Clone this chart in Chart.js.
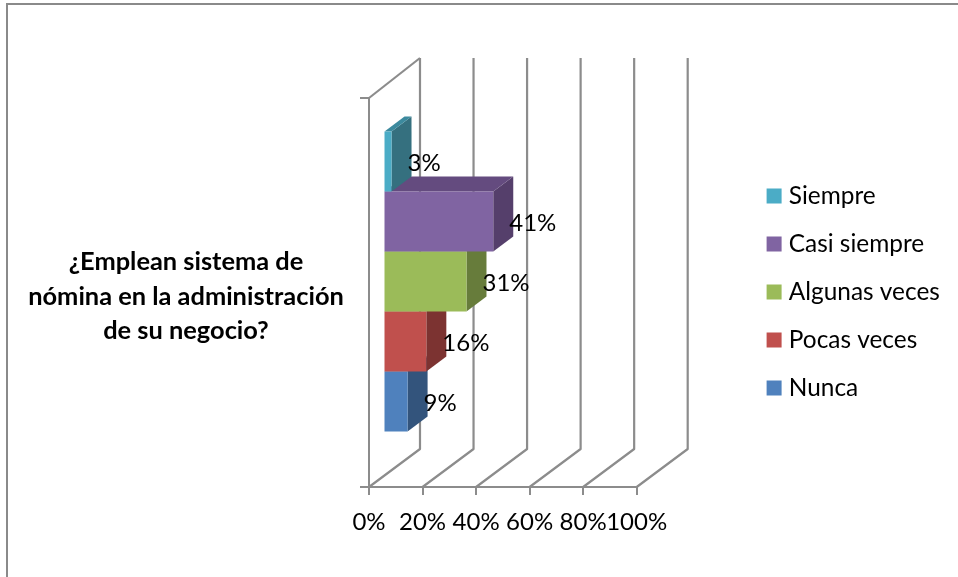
<!DOCTYPE html>
<html>
<head>
<meta charset="utf-8">
<title>Sistema de nómina</title>
<script src="https://cdn.jsdelivr.net/npm/chart.js@4/dist/chart.umd.min.js"></script>
<style>
html, body { margin: 0; padding: 0; background: #fff; }
#wrap { position: relative; width: 958px; height: 577px; overflow: hidden; }
#frame { position: absolute; left: 6px; top: 3px; right: 0; bottom: 0; border-left: 2px solid #8a8a8a; border-top: 2px solid #8a8a8a; }
#title { position: absolute; left: 16px; top: 243px; width: 340px; text-align: center; font: bold 25.4px/34.5px Lato, sans-serif; color: #000; }
canvas { position: absolute; left: 0; top: 0; }
</style>
</head>
<body>
<div id="wrap">
  <div id="frame"></div>
  <canvas id="chart" width="958" height="577"></canvas>
  <div id="title">¿Emplean sistema de<br>nómina en la administración<br>de su negocio?</div>
</div>
<script>
var categories = ['¿Emplean sistema de nómina en la administración de su negocio?'];
var seriesNames = ['Siempre', 'Casi siempre', 'Algunas veces', 'Pocas veces', 'Nunca'];
var seriesValues = [3, 41, 31, 16, 9];
var seriesColors = ['#4bacc6', '#8064a2', '#9bbb59', '#c0504d', '#4f81bd'];
var sideColors = ['#35707f', '#553f6b', '#677c3b', '#7c3331', '#33547c'];
var topColors = ['#3c8a9e', '#644b7f', '#7c9647', '#9a403e', '#3f6797'];
var tickValues = [0, 20, 40, 60, 80, 100];

var gridColor = '#8c8c8c';
// 3D look of the old office chart: floor depth and where the bars sit in it
var depthX = 51, depthY = 38;
var barShiftX = 14.5, barShiftY = 11;
var barDepthX = 20, barDepthY = 15;

var plugin3d = {
    id: 'plugin3d',
    afterLayout: function (chart) {
        // legend box is placed by hand, the layout only reserves its width
        var legend = chart.legend;
        legend.left = 748;
        legend.right = 958;
        legend.top -= 30.5;
        legend.bottom -= 30.5;
    },
    beforeDatasetsDraw: function (chart) {
        var ctx = chart.ctx;
        var xScale = chart.scales.x;
        var area = chart.chartArea;
        ctx.save();
        ctx.strokeStyle = gridColor;
        ctx.lineWidth = 2.2;
        ctx.lineJoin = 'round';
        tickValues.forEach(function (v) {
            var x = xScale.getPixelForValue(v);
            ctx.beginPath();
            ctx.moveTo(x, area.bottom);
            ctx.lineTo(x + depthX, area.bottom - depthY);
            ctx.lineTo(x + depthX, area.top - depthY - 2);
            ctx.stroke();
        });
        var x0 = xScale.getPixelForValue(0);
        ctx.beginPath();
        ctx.moveTo(x0, area.top);
        ctx.lineTo(x0 + depthX, area.top - depthY - 2);
        ctx.stroke();
        ctx.restore();
        // bars sit inside the floor, not on the front edge
        ctx.save();
        ctx.translate(barShiftX, -barShiftY);
    },
    beforeDatasetDraw: function (chart, args) {
        var ctx = chart.ctx;
        var bar = chart.getDatasetMeta(args.index).data[0];
        var top = bar.y - bar.height / 2;
        var bottom = top + bar.height;
        // side face
        ctx.fillStyle = sideColors[args.index];
        ctx.beginPath();
        ctx.moveTo(bar.x, top);
        ctx.lineTo(bar.x + barDepthX, top - barDepthY);
        ctx.lineTo(bar.x + barDepthX, bottom - barDepthY);
        ctx.lineTo(bar.x, bottom);
        ctx.closePath();
        ctx.fill();
        // top face
        ctx.fillStyle = topColors[args.index];
        ctx.beginPath();
        ctx.moveTo(bar.base, top);
        ctx.lineTo(bar.base + barDepthX, top - barDepthY);
        ctx.lineTo(bar.x + barDepthX, top - barDepthY);
        ctx.lineTo(bar.x, top);
        ctx.closePath();
        ctx.fill();
    },
    afterDatasetsDraw: function (chart) {
        var ctx = chart.ctx;
        ctx.fillStyle = '#000';
        ctx.font = '24px Lato, sans-serif';
        ctx.textAlign = 'left';
        ctx.textBaseline = 'middle';
        seriesValues.forEach(function (v, i) {
            var bar = chart.getDatasetMeta(i).data[0];
            ctx.fillText(v + '%', bar.x + 16, bar.y + 2);
        });
        ctx.restore();
    }
};

var datasets = seriesNames.map(function (name, i) {
    return {
        label: name,
        data: [seriesValues[i]],
        backgroundColor: seriesColors[i],
        borderWidth: 0,
        categoryPercentage: 0.771,
        barPercentage: 1,
        clip: false
    };
});

new Chart(document.getElementById('chart'), {
    type: 'bar',
    data: { labels: categories, datasets: datasets },
    options: {
        indexAxis: 'y',
        responsive: false,
        animation: false,
        layout: { padding: { left: 360, right: 131.3, top: 98, bottom: 30 } },
        plugins: {
            title: { display: false },
            tooltip: { enabled: false },
            legend: {
                position: 'right',
                align: 'center',
                maxWidth: 190,
                labels: {
                    usePointStyle: true,
                    pointStyle: 'rect',
                    boxWidth: 5,
                    boxHeight: 15,
                    padding: 23.6,
                    color: '#000',
                    font: { family: 'Lato, sans-serif', size: 24.4 }
                }
            }
        },
        scales: {
            x: {
                type: 'linear',
                min: 0,
                max: 100,
                afterFit: function (scale) { scale.height = 60; },
                afterBuildTicks: function (scale) {
                    scale.ticks = tickValues.map(function (v) { return { value: v }; });
                },
                border: { color: gridColor, width: 2 },
                grid: { drawOnChartArea: false, color: gridColor, lineWidth: 2, tickLength: 8 },
                ticks: {
                    autoSkip: false,
                    maxRotation: 0,
                    padding: 13,
                    color: '#000',
                    font: { family: 'Lato, sans-serif', size: 24 },
                    callback: function (v) { return v + '%'; }
                }
            },
            y: {
                type: 'category',
                afterFit: function (scale) { scale.width = 9; },
                border: { color: gridColor, width: 2 },
                grid: { drawOnChartArea: false, offset: true, color: gridColor, lineWidth: 2, tickLength: 9 },
                ticks: { display: false }
            }
        }
    },
    plugins: [plugin3d]
});
</script>
</body>
</html>
